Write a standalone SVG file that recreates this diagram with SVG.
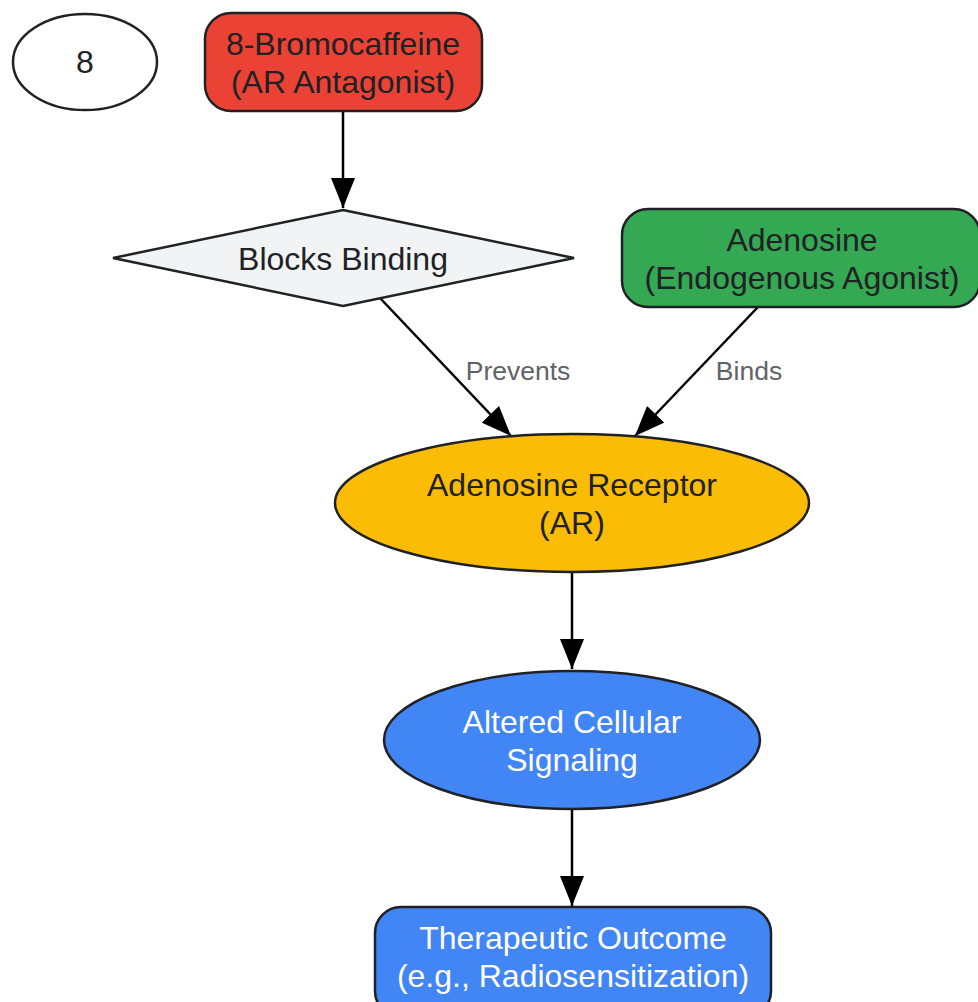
<svg xmlns="http://www.w3.org/2000/svg" width="978" height="1002" viewBox="0 0 978 1002">
<style>
.n{stroke:#202124;stroke-width:2.5}
.t{font-family:"Liberation Sans",Arial,sans-serif;font-size:32px;text-anchor:middle;fill:#202124}
.w{fill:#ffffff}
.l{font-family:"Liberation Sans",Arial,sans-serif;font-size:26.5px;text-anchor:middle;fill:#5f6368}
.e{stroke:#000;stroke-width:2.5;fill:none}
</style>
<defs>
<marker id="ah" markerUnits="userSpaceOnUse" markerWidth="32" markerHeight="24" refX="30" refY="12" orient="auto">
<path d="M0,0 L30,12 L0,24 Z" fill="#000"/>
</marker>
</defs>
<rect width="978" height="1002" fill="#fff"/>
<g id="connectors">
<path class="e" d="M343,111 L343,208" marker-end="url(#ah)"/>
<path class="e" d="M380,298 L511,436" marker-end="url(#ah)"/>
<path class="e" d="M758,307 L635,436" marker-end="url(#ah)"/>
<path class="e" d="M572,572 L572,669" marker-end="url(#ah)"/>
<path class="e" d="M572,809 L572,906" marker-end="url(#ah)"/>
<text class="l" x="518" y="380">Prevents</text>
<text class="l" x="749" y="380">Binds</text>
</g>
<g id="n8">
<ellipse class="n" cx="85" cy="62" rx="72" ry="48" fill="#fff"/>
<text class="t" x="85" y="73">8</text>
</g>
<g id="bromo">
<rect class="n" x="205" y="13" width="277" height="98" rx="26" fill="#EA4335"/>
<text class="t" x="343" y="55">8-Bromocaffeine</text>
<text class="t" x="343" y="93">(AR Antagonist)</text>
</g>
<g id="blocks">
<polygon class="n" points="343,210 574,258 343,306 113,258" fill="#F1F3F4"/>
<text class="t" x="343" y="270">Blocks Binding</text>
</g>
<g id="adenosine">
<rect class="n" x="622" y="209" width="358" height="98" rx="26" fill="#34A853"/>
<text class="t" x="802" y="251">Adenosine</text>
<text class="t" x="802" y="289">(Endogenous Agonist)</text>
</g>
<g id="receptor">
<ellipse class="n" cx="572" cy="503" rx="237" ry="69" fill="#FBBC05"/>
<text class="t" x="572" y="496">Adenosine Receptor</text>
<text class="t" x="572" y="534">(AR)</text>
</g>
<g id="signaling">
<ellipse class="n" cx="572" cy="740" rx="188" ry="69" fill="#4285F4"/>
<text class="t w" x="572" y="733">Altered Cellular</text>
<text class="t w" x="572" y="771">Signaling</text>
</g>
<g id="outcome">
<rect class="n" x="375" y="907" width="396" height="110" rx="26" fill="#4285F4"/>
<text class="t w" x="573" y="949">Therapeutic Outcome</text>
<text class="t w" x="573" y="987">(e.g., Radiosensitization)</text>
</g>
</svg>
